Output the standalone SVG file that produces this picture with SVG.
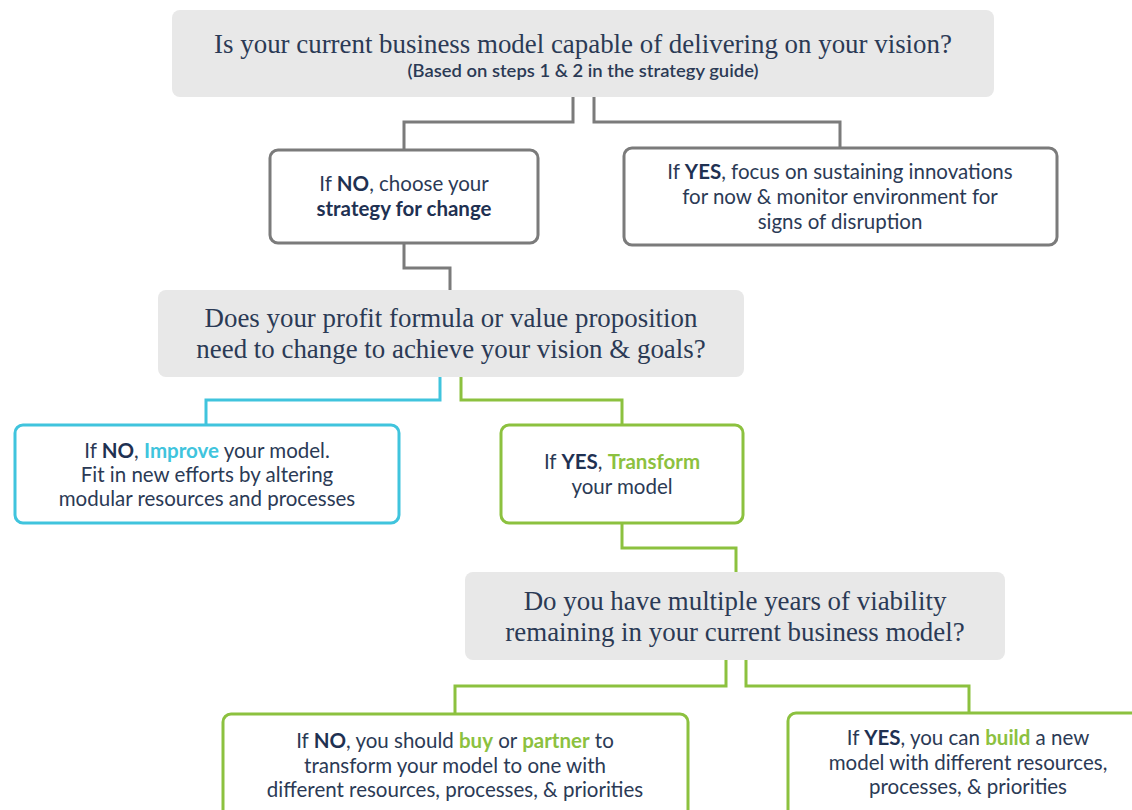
<svg xmlns="http://www.w3.org/2000/svg" width="1132" height="810" viewBox="0 0 1132 810">
<style>
.q{fill:#e8e8e8}
.qt{font-family:"Liberation Serif",serif;font-size:26.9px;fill:#2b3a55;text-anchor:middle}
.sub{font-family:Lato,"Liberation Sans",sans-serif;font-size:17px;font-weight:600;fill:#2b3a55;text-anchor:middle}
.b{font-family:Lato,"Liberation Sans",sans-serif;font-size:20.5px;fill:#2b3a55;text-anchor:middle}
.k{font-weight:bold;fill:#1f3152}
.g{font-weight:bold;fill:#8cc13f}
.c{font-weight:bold;fill:#40c4dd}
.bx{fill:#fff;stroke-width:3}
.gray{stroke:#7b7b7b}
.grn{stroke:#8cc13f}
.cyn{stroke:#40c4dd}
.ln{fill:none;stroke-width:3}
</style>
<rect width="1132" height="810" fill="#fff"/>
<g id="connectors">
<path class="ln gray" d="M573 97V122H404V150"/>
<path class="ln gray" d="M594 97V122H840V148"/>
<path class="ln gray" d="M404 243V268H450V290"/>
<path class="ln cyn" d="M440 377V400H206V425"/>
<path class="ln grn" d="M461 377V400H622V425"/>
<path class="ln grn" d="M622 523V548H736V572"/>
<path class="ln grn" d="M726 660V686H455V714"/>
<path class="ln grn" d="M746 660V686H969V713"/>
</g>
<g id="q1">
<rect class="q" x="172" y="10" width="822" height="87" rx="8"/>
<text class="qt" x="583" y="53">Is your current business model capable of delivering on your vision?</text>
<text class="sub" x="583" y="77" textLength="351" lengthAdjust="spacingAndGlyphs">(Based on steps 1 &amp; 2 in the strategy guide)</text>
</g>
<g id="no1">
<rect class="bx gray" x="270" y="150" width="268" height="93" rx="8"/>
<text class="b" x="404" y="191">If <tspan class="k">NO</tspan>, choose your</text>
<text class="b" x="404" y="216"><tspan class="k">strategy for change</tspan></text>
</g>
<g id="yes1">
<rect class="bx gray" x="624" y="148" width="433" height="97" rx="8"/>
<text class="b" x="840" y="179">If <tspan class="k">YES</tspan>, focus on sustaining innovations</text>
<text class="b" x="840" y="204">for now &amp; monitor environment for</text>
<text class="b" x="840" y="229">signs of disruption</text>
</g>
<g id="q2">
<rect class="q" x="158" y="290" width="586" height="87" rx="8"/>
<text class="qt" x="451" y="327">Does your profit formula or value proposition</text>
<text class="qt" x="451" y="358">need to change to achieve your vision &amp; goals?</text>
</g>
<g id="no2">
<rect class="bx cyn" x="15" y="425" width="384" height="98" rx="8"/>
<text class="b" x="207" y="458">If <tspan class="k">NO</tspan>, <tspan class="c">Improve</tspan> your model.</text>
<text class="b" x="207" y="482">Fit in new efforts by altering</text>
<text class="b" x="207" y="506">modular resources and processes</text>
</g>
<g id="yes2">
<rect class="bx grn" x="501" y="425" width="242" height="98" rx="8"/>
<text class="b" x="622" y="469">If <tspan class="k">YES</tspan>, <tspan class="g">Transform</tspan></text>
<text class="b" x="622" y="494">your model</text>
</g>
<g id="q3">
<rect class="q" x="465" y="572" width="540" height="88" rx="8"/>
<text class="qt" x="735" y="610">Do you have multiple years of viability</text>
<text class="qt" x="735" y="641">remaining in your current business model?</text>
</g>
<g id="no3">
<rect class="bx grn" x="223" y="714" width="465" height="110" rx="8"/>
<text class="b" x="455" y="748">If <tspan class="k">NO</tspan>, you should <tspan class="g">buy</tspan> or <tspan class="g">partner</tspan> to</text>
<text class="b" x="455" y="773">transform your model to one with</text>
<text class="b" x="455" y="797">different resources, processes, &amp; priorities</text>
</g>
<g id="yes3">
<rect class="bx grn" x="788" y="713" width="360" height="110" rx="8"/>
<text class="b" x="968" y="745">If <tspan class="k">YES</tspan>, you can <tspan class="g">build</tspan> a new</text>
<text class="b" x="968" y="770">model with different resources,</text>
<text class="b" x="968" y="794">processes, &amp; priorities</text>
</g>
</svg>
